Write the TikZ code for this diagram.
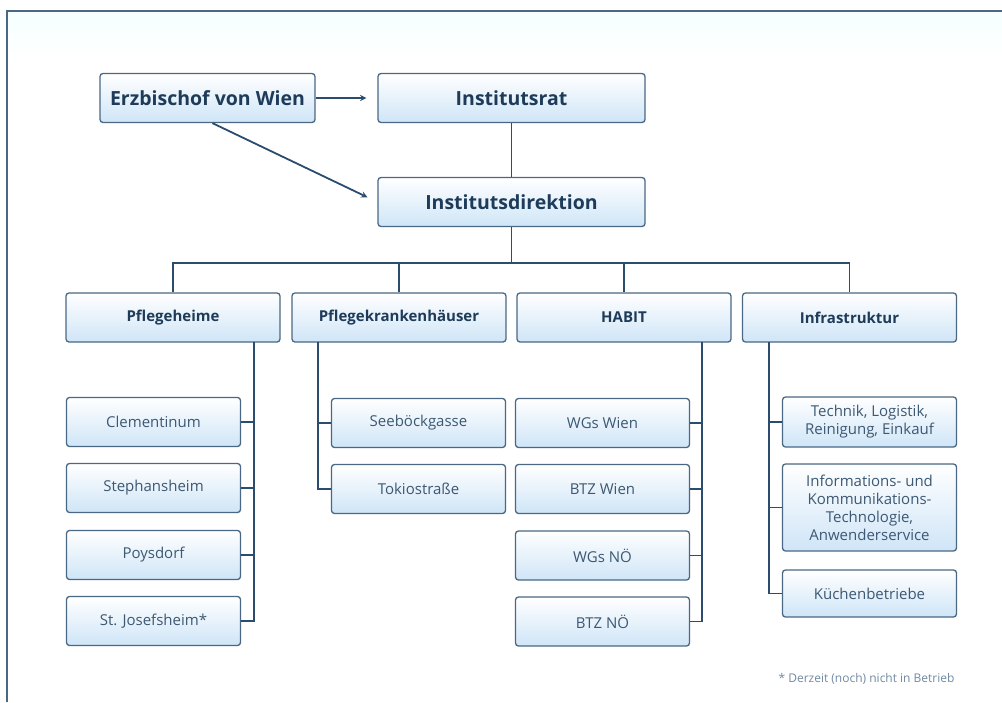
\documentclass[tikz,border=0pt]{standalone}
\usepackage{fontspec}
\setmainfont{Open Sans}
\usepackage{tikz}
\usepackage{xcolor}
\usetikzlibrary{positioning}
\definecolor{c_line}{HTML}{2B4C6E}
\definecolor{c_border}{HTML}{4A6884}
\definecolor{c_fill}{HTML}{CFE5F7}
\definecolor{c_dark}{HTML}{1E3C5A}
\definecolor{c_text}{HTML}{3D5873}
\definecolor{c_note}{HTML}{7189A3}
\tikzset{c-box/.style={rectangle, rounded corners=3pt, draw=c_border, line width=1.3pt, top color=white, bottom color=c_fill, minimum height=49pt, inner sep=2pt, align=center},
c-top/.style={c-box, minimum width=#1, font=\fontsize{19.5}{22}\selectfont\bfseries, text=c_dark},
c-head/.style={c-box, minimum width=214pt, font=\fontsize{15}{18}\selectfont\bfseries, text=c_dark},
c-item/.style={c-box, minimum width=174pt, font=\fontsize{15}{18}\selectfont, text=c_text},
link/.style={draw=c_line, line width=1.8pt},
arrow/.style={link,->,>=stealth, shorten >=11pt}}

\begin{document}
\begin{tikzpicture}[x=1pt, y=-1pt]
\useasboundingbox (0,0) rectangle (1002,702);
\shade [top color=cyan!4, bottom color=white] (7,11) rectangle (1002,60);
\draw [c_border, line width=1.5pt] (7,702) -- (7,11) -- (1002,11);
% top level
\node (erz) [c-top=215pt] at (207.5,98) {Erzbischof von Wien};
\node (rat) [c-top=267pt] at (511.5,98) {Institutsrat};
\node (dir) [c-top=267pt] at (511.5,202) {Institutsdirektion};
\draw [arrow] (erz) -- (rat);
\draw [arrow] ([xshift=5pt]erz.south) -- (dir.west);
\draw [link] (rat) -- (dir);
% departments
\node (pfh) [c-head] at (173,317.5) {Pflegeheime};
\node (pfk) [c-head] at (399,317.5) {Pflegekrankenhäuser};
\node (hab) [c-head] at (624,317.5) {HABIT};
\node (inf) [c-head] at (849.5,317.5) {Infrastruktur};
\coordinate (bar) at (511.5,263);
\draw [link] (dir) -- (bar);
\draw [link] (pfh.north) |- (bar) -| (inf.north);
\draw [link] (pfk.north) -- (pfk.north |- bar);
\draw [link] (hab.north) -- (hab.north |- bar);
% Pflegeheime
\node (cle) [c-item] at (153.5,422) {Clementinum};
\node (ste) [c-item] at (153.5,488) {Stephansheim};
\node (poy) [c-item] at (153.5,555) {Poysdorf};
\node (jos) [c-item] at (153.5,621) {St. Josefsheim*};
\coordinate (pfhs) at (254,342);
\draw [link] (pfhs) |- (jos.east);
\foreach \n in {cle,ste,poy}
  \draw [link] (\n.east) -- (\n.east -| pfhs);
% Pflegekrankenhaeuser
\node (see) [c-item] at (418.5,423) {Seeböckgasse};
\node (tok) [c-item] at (418.5,489) {Tokiostraße};
\coordinate (pfks) at (318,342);
\draw [link] (pfks) |- (tok.west);
\draw [link] (see.west) -- (see.west -| pfks);
% HABIT
\node (wgw) [c-item] at (602.5,423) {WGs Wien};
\node (btw) [c-item] at (602.5,489) {BTZ Wien};
\node (wgn) [c-item] at (602.5,555.5) {WGs NÖ};
\node (btn) [c-item] at (602.5,621.5) {BTZ NÖ};
\coordinate (habs) at (702,342);
\draw [link] (habs) |- (btn.east);
\foreach \n in {wgw,btw,wgn}
  \draw [link] (\n.east) -- (\n.east -| habs);
% Infrastruktur
\node (tec) [c-item, minimum height=50pt] at (869.5,422) {Technik, Logistik,\\Reinigung, Einkauf};
\node (ikt) [c-item, minimum height=87pt] at (869.5,507.5) {Informations- und\\Kommunikations-\\Technologie,\\Anwenderservice};
\node (kue) [c-item, minimum height=47pt] at (869.5,593.5) {Küchenbetriebe};
\coordinate (infs) at (769,342);
\draw [link] (infs) |- (kue.west);
\foreach \n in {tec,ikt}
  \draw [link] (\n.west) -- (\n.west -| infs);
\node (note) [font=\fontsize{12}{14}\selectfont, text=c_note, anchor=east] at (958,679) {* Derzeit (noch) nicht in Betrieb};
\end{tikzpicture}
\end{document}
